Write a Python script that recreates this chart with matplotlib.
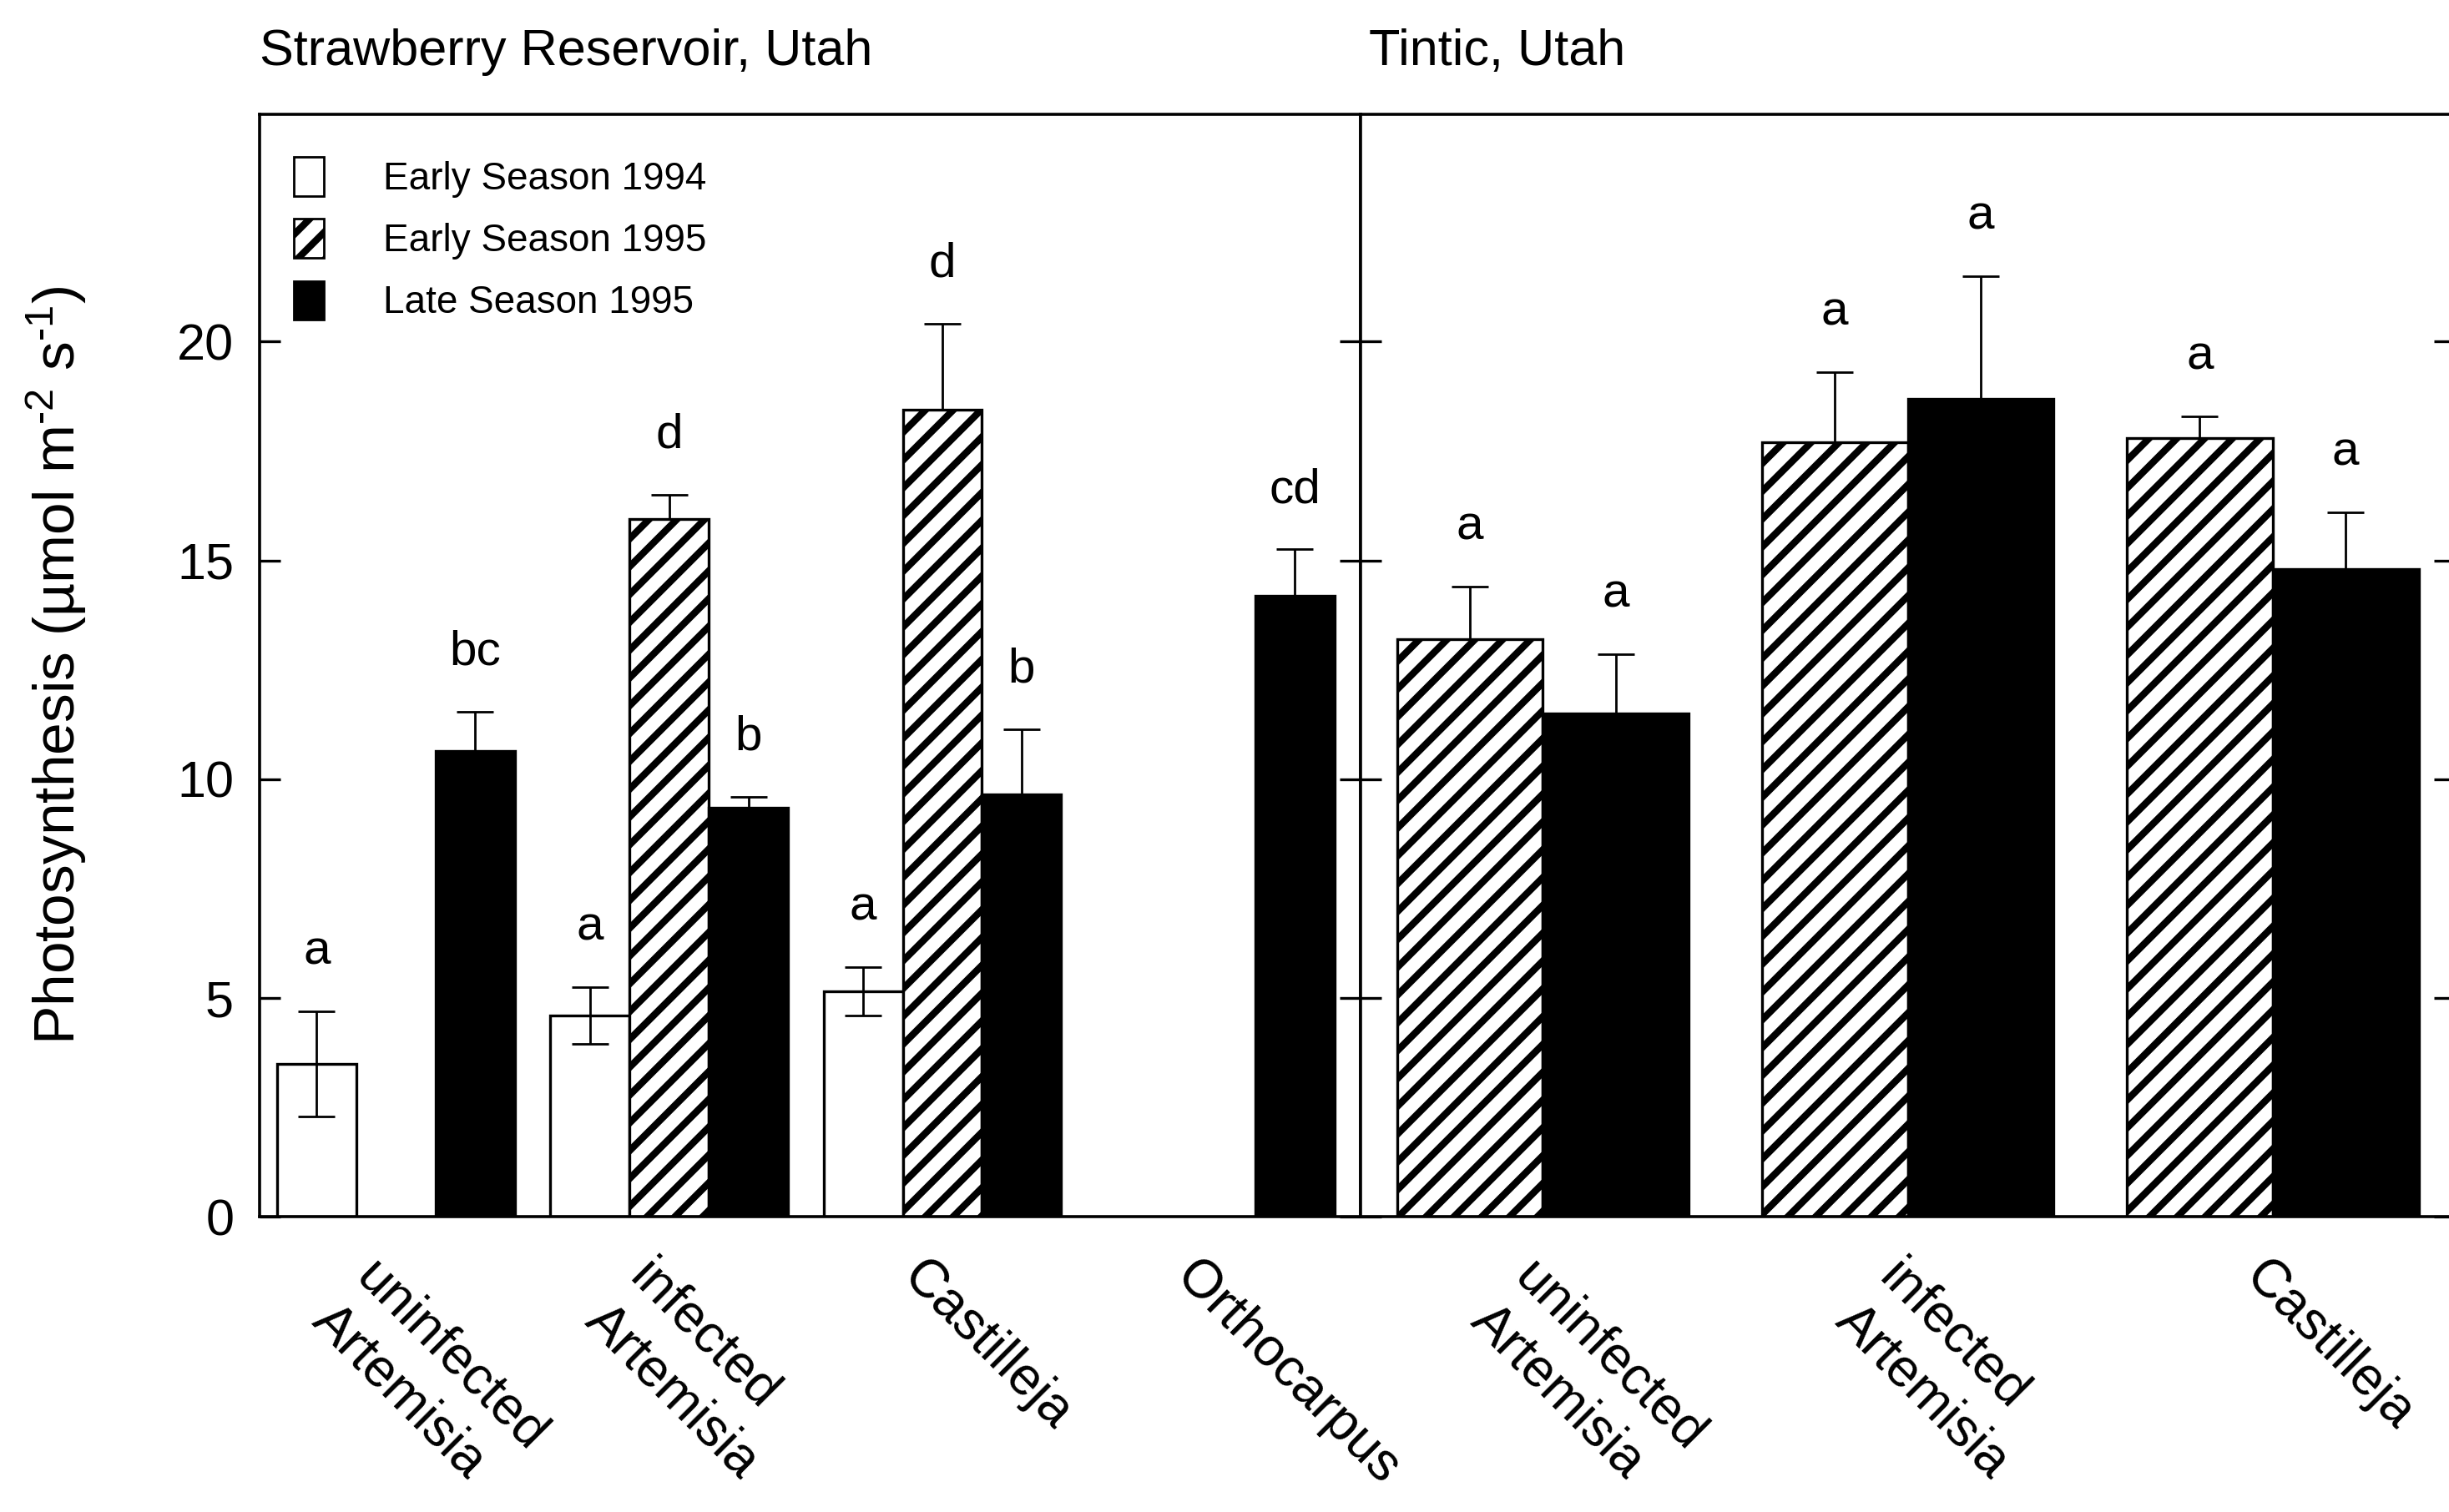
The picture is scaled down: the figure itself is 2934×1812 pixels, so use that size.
import numpy as np
import matplotlib
import matplotlib.pyplot as plt
from matplotlib.patches import Patch
from matplotlib.transforms import ScaledTranslation

# Strawberry Reservoir panel
sr_groups = ["uninfected\nArtemisia", "infected\nArtemisia", "Castilleja", "Orthocarpus"]
sr_early94 = [3.5, 4.6, 5.15, np.nan]
sr_early94_se = [1.2, 0.65, 0.55, np.nan]
sr_early95 = [np.nan, 15.95, 18.45, np.nan]
sr_early95_se = [np.nan, 0.55, 1.95, np.nan]
sr_late95 = [10.65, 9.35, 9.65, 14.2]
sr_late95_se = [0.9, 0.25, 1.5, 1.05]
sr_let94 = ["a", "a", "a", ""]
sr_let95e = ["", "d", "d", ""]
sr_let95l = ["bc", "b", "b", "cd"]

# Tintic panel
tt_groups = ["uninfected\nArtemisia", "infected\nArtemisia", "Castilleja"]
tt_early95 = [13.2, 17.7, 17.8]
tt_early95_se = [1.2, 1.6, 0.5]
tt_late95 = [11.5, 18.7, 14.8]
tt_late95_se = [1.35, 2.8, 1.3]
tt_let95e = ["a", "a", "a"]
tt_let95l = ["a", "a", "a"]

legend_labels = ["Early Season 1994", "Early Season 1995", "Late Season 1995"]

matplotlib.rcParams.update({
    "font.family": ["Liberation Sans", "DejaVu Sans"],
    "mathtext.fontset": "custom",
    "mathtext.rm": "Liberation Sans",
    "mathtext.default": "regular",
    "hatch.linewidth": 3.0,
})

STYLES = [
    dict(color="white", hatch=None),
    dict(color="white", hatch="//"),
    dict(color="black", hatch=None),
]


def draw_series(ax, x, vals, se, letters, offset, width, style, both=False):
    vals = np.asarray(vals, dtype=float)
    se = np.asarray(se, dtype=float)
    ok = ~np.isnan(vals)
    xs = x[ok] + offset
    ax.bar(xs, vals[ok], width, color=style["color"], hatch=style["hatch"],
           edgecolor="black", linewidth=1.2, zorder=2)
    lower = se[ok] if both else np.zeros(ok.sum())
    ax.errorbar(xs, vals[ok], yerr=[lower, se[ok]], fmt="none", ecolor="black",
                elinewidth=1.0, capsize=8, capthick=1.0, zorder=3)
    for xi, v, s, let in zip(xs, vals[ok], se[ok], np.array(letters)[ok]):
        if let:
            ax.annotate(let, (xi, v + s), xytext=(0, 16), textcoords="offset points",
                        ha="center", va="bottom", fontsize=21)


def style_axes(ax, labels, xlim, xshift):
    ax.set_ylim(0, 25.2)
    ax.set_xlim(*xlim)
    ax.set_yticks([0, 5, 10, 15, 20])
    ax.tick_params(axis="y", direction="in", length=9, width=1.2, left=True,
                   right=True, labelsize=22, pad=11)
    ax.set_xticks(np.arange(len(labels)))
    ax.set_xticklabels(labels, rotation=-45, ha="left", va="top",
                       rotation_mode="anchor", fontsize=23, linespacing=1.3)
    ax.tick_params(axis="x", length=0, pad=15)
    shift = ScaledTranslation(xshift / 72, 0, ax.figure.dpi_scale_trans)
    for lab in ax.get_xticklabels():
        lab.set_transform(lab.get_transform() + shift)
    for sp in ax.spines.values():
        sp.set_linewidth(1.3)


fig = plt.figure(figsize=(14.67, 9.06), dpi=200)
ax1 = fig.add_axes([0.1059, 0.1952, 0.4496, 0.7294])
ax2 = fig.add_axes([0.5555, 0.1952, 0.4470, 0.7294])

x1 = np.arange(len(sr_groups))
w1 = 0.29
draw_series(ax1, x1, sr_early94, sr_early94_se, sr_let94, -w1, w1, STYLES[0], both=True)
draw_series(ax1, x1, sr_early95, sr_early95_se, sr_let95e, 0, w1, STYLES[1])
draw_series(ax1, x1, sr_late95, sr_late95_se, sr_let95l, w1, w1, STYLES[2])
style_axes(ax1, sr_groups, (-0.5, 3.53), -6)

x2 = np.arange(len(tt_groups))
w2 = 0.40
draw_series(ax2, x2, tt_early95, tt_early95_se, tt_let95e, -w2 / 2, w2, STYLES[1])
draw_series(ax2, x2, tt_late95, tt_late95_se, tt_let95l, w2 / 2, w2, STYLES[2])
style_axes(ax2, tt_groups, (-0.5, 2.5), -1)
ax2.tick_params(axis="y", labelleft=False)

ax1.set_ylabel(r"Photosynthesis (µmol m$^{\text{-}2}$ s$^{\text{-}1}$)", fontsize=25)
ax1.yaxis.set_label_coords(-0.155, 0.5)
ax1.set_title("Strawberry Reservoir, Utah", loc="left", fontsize=22, pad=21)
ax2.set_title("Tintic, Utah", loc="left", fontsize=22, pad=21, x=0.008)

handles = [Patch(facecolor=s["color"], edgecolor="black", hatch=s["hatch"], label=l)
           for s, l in zip(STYLES, legend_labels)]
ax1.legend(handles=handles, loc="upper left", bbox_to_anchor=(0.031, 0.961),
           frameon=False, fontsize=16.5, handlelength=0.8, handleheight=1.2,
           handletextpad=1.55, labelspacing=0.55, borderpad=0, borderaxespad=0)

fig.savefig("out.png", dpi=200)
